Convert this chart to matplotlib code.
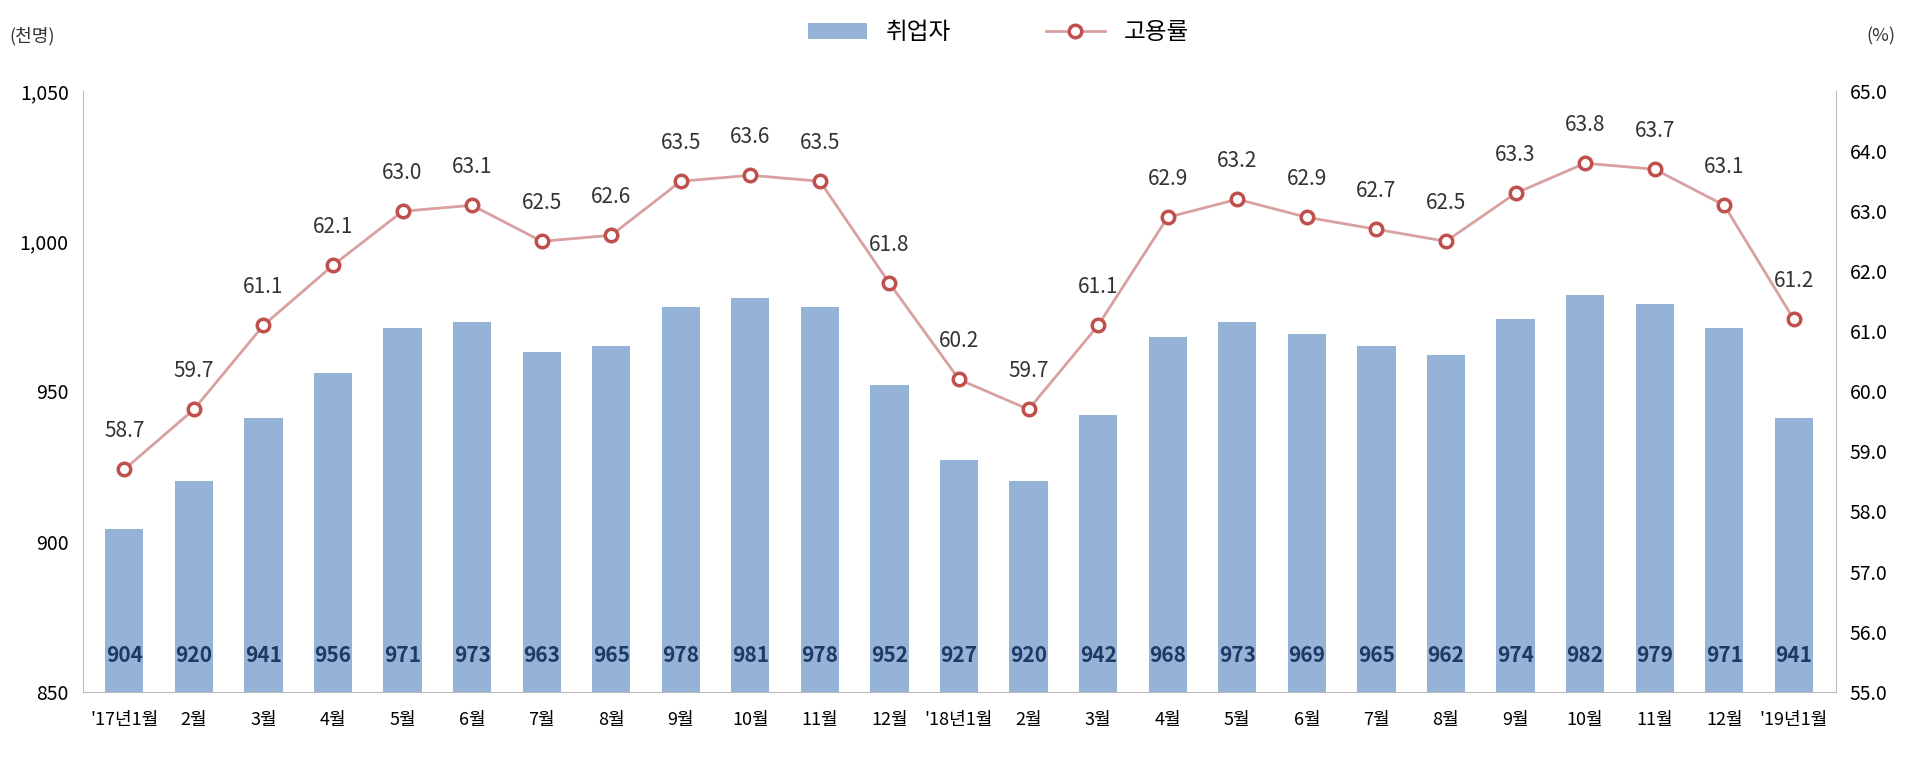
import matplotlib
matplotlib.use("Agg")
import matplotlib.pyplot as plt
from matplotlib.ticker import FuncFormatter

plt.rcParams['font.family'] = ['Noto Sans CJK KR', 'DejaVu Sans']

labels = ["'17년1월","2월","3월","4월","5월","6월","7월","8월","9월","10월","11월","12월",
          "'18년1월","2월","3월","4월","5월","6월","7월","8월","9월","10월","11월","12월","'19년1월"]
employed = [904,920,941,956,971,973,963,965,978,981,978,952,927,920,942,968,973,969,965,962,974,982,979,971,941]
rate = [58.7,59.7,61.1,62.1,63.0,63.1,62.5,62.6,63.5,63.6,63.5,61.8,60.2,59.7,61.1,62.9,63.2,62.9,62.7,62.5,63.3,63.8,63.7,63.1,61.2]

fig = plt.figure(figsize=(19.2, 7.6), dpi=100)
ax = fig.add_axes([0.043, 0.09, 0.913, 0.79])
x = list(range(len(labels)))
ax.bar(x, employed, width=0.55, color='#95b3d7', zorder=2, label='취업자')
ax.set_ylim(850, 1050)
ax.set_yticks(range(850, 1051, 50))
ax.yaxis.set_major_formatter(FuncFormatter(lambda v, p: f"{int(v):,}"))
ax.set_xlim(-0.6, len(labels) - 0.4)
ax.set_xticks(x)
ax.set_xticklabels(labels, fontsize=13)
ax.tick_params(axis='x', length=0, pad=14)
ax.tick_params(axis='y', labelsize=14, length=0, pad=10)
for s in ['top', 'right']:
    ax.spines[s].set_visible(False)
ax.spines['left'].set_color('#bbbbbb')
ax.spines['bottom'].set_color('#bbbbbb')
for xi, v in zip(x, employed):
    ax.text(xi, 862, str(v), ha='center', va='center', fontsize=15, color='#1f3864', fontweight='bold')

ax2 = ax.twinx()
ax2.plot(x, rate, color='#d9a0a0', lw=2, marker='o', markersize=9, markerfacecolor='white',
         markeredgecolor='#c0504d', markeredgewidth=2.5, zorder=3, label='고용률')
ax2.set_ylim(55, 65)
ax2.set_yticks([55 + i for i in range(11)])
ax2.yaxis.set_major_formatter(FuncFormatter(lambda v, p: f"{v:.1f}"))
ax2.tick_params(axis='y', labelsize=14, length=0, pad=10)
for s in ['top', 'left', 'bottom']:
    ax2.spines[s].set_visible(False)
ax2.spines['right'].set_color('#bbbbbb')
for xi, v in zip(x, rate):
    ax2.text(xi, v + 0.45, f"{v:.1f}", ha='center', va='bottom', fontsize=15, color='#333333')

fig.text(0.005, 0.945, '(천명)', fontsize=13, color='#333333')
fig.text(0.972, 0.945, '(%)', fontsize=13, color='#333333')

h1, l1 = ax.get_legend_handles_labels()
h2, l2 = ax2.get_legend_handles_labels()
fig.legend(h1 + h2, l1 + l2, loc='upper center', bbox_to_anchor=(0.52, 1.0), ncol=2,
           frameon=False, fontsize=17, handlelength=2.5, columnspacing=4)

fig.savefig('out.png', dpi=100)
